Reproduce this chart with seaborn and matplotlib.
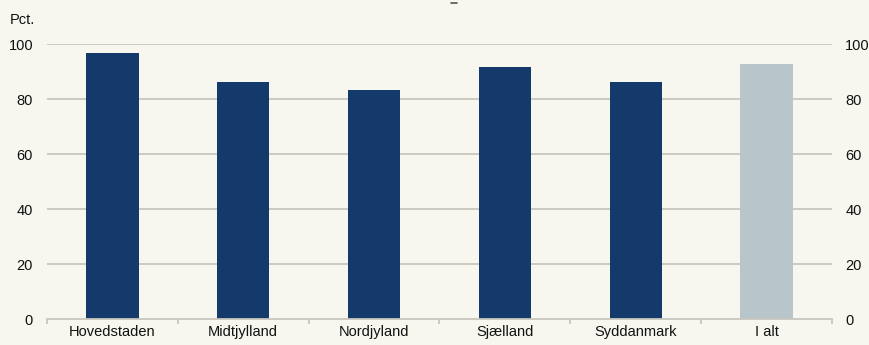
import matplotlib
matplotlib.use("Agg")
import matplotlib.pyplot as plt
import seaborn as sns
import pandas as pd
from matplotlib.lines import Line2D

regions = ["Hovedstaden", "Midtjylland", "Nordjyland", "Sjælland", "Syddanmark", "I alt"]
shares = [96.6, 86.2, 83.3, 91.6, 86.2, 92.7]
y_ticks = [0, 20, 40, 60, 80, 100]

bg = "#f7f7ef"
navy = "#14396b"
light = "#b8c6cb"
grid_col = "#c9c7bd"

sns.set_theme(style="white")
plt.rcParams["font.family"] = ["Liberation Sans", "DejaVu Sans"]

df = pd.DataFrame({"region": regions, "share": shares})
palette = {r: (light if r == "I alt" else navy) for r in regions}

fig = plt.figure(figsize=(8.7, 3.45), dpi=100, facecolor=bg)
ax = fig.add_axes([47 / 870, 1 - 319.3 / 345, 785 / 870, 275.3 / 345])
ax.set_facecolor(bg)

sns.barplot(data=df, x="region", y="share", hue="region", palette=palette,
            width=0.4, saturation=1, legend=False, ax=ax, zorder=3,
            linewidth=0, edgecolor="none")

ax.set_xlim(-0.5, len(regions) - 0.5)
ax.set_ylim(0, 100)
ax.set_yticks(y_ticks)
ax.set_xlabel("")
ax.set_ylabel("")

for y in y_ticks[1:]:
    ax.axhline(y, color=grid_col, lw=1.3, zorder=1)

for s in ["top", "left", "right"]:
    ax.spines[s].set_visible(False)
ax.spines["bottom"].set_color(grid_col)
ax.spines["bottom"].set_linewidth(1.3)
ax.spines["bottom"].set_zorder(4)

# category boundaries carry the x tick marks
ax.set_xticks([i - 0.5 for i in range(len(regions) + 1)], minor=True)
ax.set_xticks(range(len(regions)))
ax.set_xticklabels(regions)
ax.tick_params(axis="x", which="major", bottom=False, length=0, pad=4,
               labelsize=10.5, labelcolor="#111111")
ax.tick_params(axis="x", which="minor", bottom=True, length=3.5, width=1.3,
               color=grid_col, direction="out")
ax.tick_params(axis="y", length=0, pad=10, labelsize=10.5, labelcolor="#111111",
               left=False, right=False, labelleft=True, labelright=False)

ax2 = ax.twinx()
ax2.set_ylim(0, 100)
ax2.set_yticks(y_ticks)
for s in ax2.spines.values():
    s.set_visible(False)
ax2.tick_params(axis="y", length=0, pad=9.5, labelsize=10.5, labelcolor="#111111")

fig.text(10 / 870, 1 - 20 / 345, "Pct.", fontsize=10.5, color="#111111",
         ha="left", va="center")
fig.add_artist(Line2D([451 / 870, 457.5 / 870], [1 - 3.3 / 345, 1 - 3.3 / 345],
                      color="#555555", lw=1.2))

fig.savefig("out.png", dpi=100, facecolor=bg)
